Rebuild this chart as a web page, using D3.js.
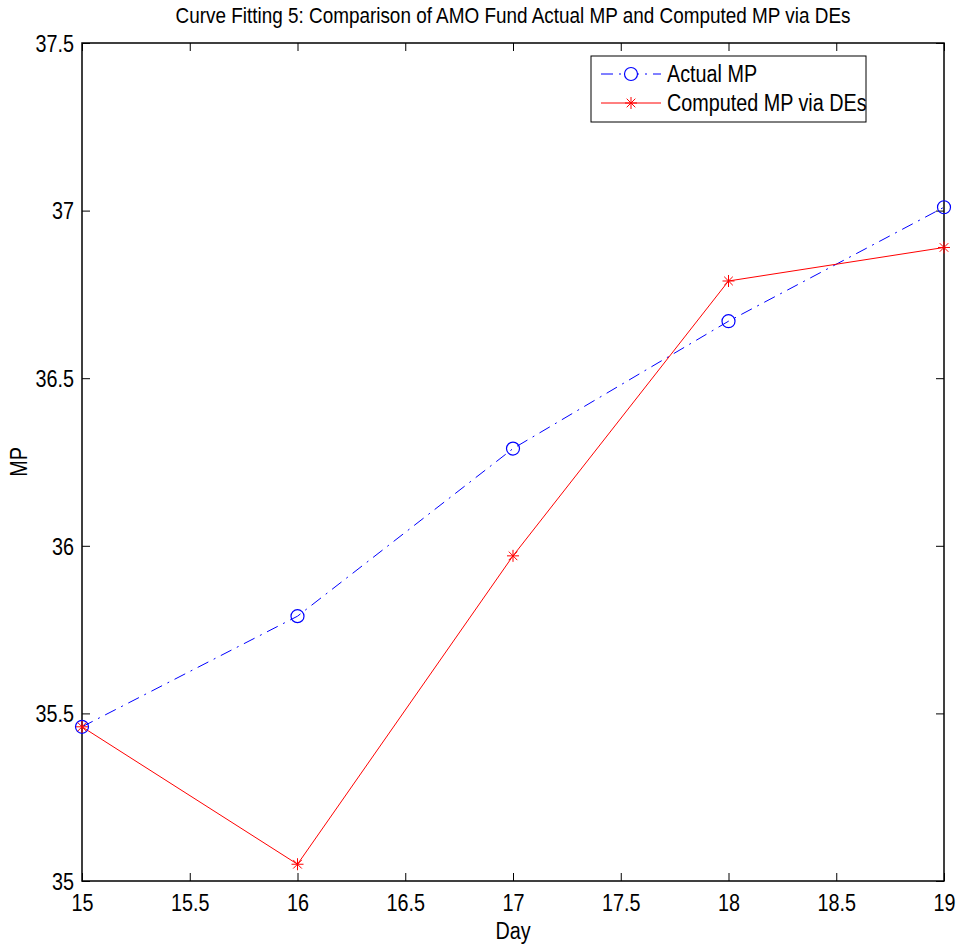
<!DOCTYPE html>
<html>
<head>
<meta charset="utf-8">
<script src="https://cdn.jsdelivr.net/npm/d3@7"></script>
<style>
  body { margin: 0; background: #fff; }
  text { font-family: "Liberation Sans", Arial, sans-serif; }
</style>
</head>
<body>
<div id="chart"></div>
<script>
// data
var days = [15, 16, 17, 18, 19];
var actualMP = [35.46, 35.79, 36.29, 36.67, 37.01];
var computedMP = [35.46, 35.05, 35.97, 36.79, 36.89];
var xTicks = [15, 15.5, 16, 16.5, 17, 17.5, 18, 18.5, 19];
var yTicks = [35, 35.5, 36, 36.5, 37, 37.5];

var W = 958, H = 947;
var margin = { top: 43, right: 14, bottom: 66, left: 82 },
  width = W - margin.left - margin.right,
  height = H - margin.top - margin.bottom;

// the original font is a narrow helvetica, squeeze liberation sans to match
var sx = 0.86;

var svg = d3.select("#chart").append("svg")
  .attr("width", W)
  .attr("height", H);

var g = svg.append("g")
  .attr("transform", "translate(" + margin.left + "," + margin.top + ")");

var x = d3.scaleLinear().domain([15, 19]).range([0, width]);
var y = d3.scaleLinear().domain([35, 37.5]).range([height, 0]);

var tickLen = 8;

// axes: ticks point inward, mirrored on top/right
var fmt = function (d) { return String(d); };
var axBottom = g.append("g").attr("transform", "translate(0," + height + ")")
  .call(d3.axisBottom(x).tickValues(xTicks).tickFormat(fmt).tickSizeInner(-tickLen).tickSizeOuter(0).tickPadding(14));
var axTop = g.append("g")
  .call(d3.axisTop(x).tickValues(xTicks).tickFormat("").tickSizeInner(-tickLen).tickSizeOuter(0));
var axLeft = g.append("g")
  .call(d3.axisLeft(y).tickValues(yTicks).tickFormat(fmt).tickSizeInner(-tickLen).tickSizeOuter(0).tickPadding(8));
var axRight = g.append("g").attr("transform", "translate(" + width + ",0)")
  .call(d3.axisRight(y).tickValues(yTicks).tickFormat("").tickSizeInner(-tickLen).tickSizeOuter(0));

[axBottom, axTop, axLeft, axRight].forEach(function (a) {
  a.select(".domain").remove();
  a.selectAll(".tick line").attr("stroke", "#000").attr("stroke-width", 1);
  a.selectAll(".tick text")
    .attr("font-size", 23).attr("fill", "#000")
    .attr("x", function () { return (+d3.select(this).attr("x") || 0) / sx; })
    .attr("transform", "scale(" + sx + ",1)");
});
axLeft.selectAll(".tick text").attr("dy", "0.36em");

g.append("rect")
  .attr("width", width).attr("height", height)
  .attr("fill", "none").attr("stroke", "#000").attr("stroke-width", 1.5);

// lines
var line = d3.line()
  .x(function (d) { return x(d[0]); })
  .y(function (d) { return y(d[1]); });

var actual = d3.zip(days, actualMP);
var computed = d3.zip(days, computedMP);

g.append("path").datum(actual)
  .attr("d", line).attr("fill", "none")
  .attr("stroke", "#0000ff").attr("stroke-width", 1)
  .attr("stroke-dasharray", "12,6,2,6");

g.append("path").datum(computed)
  .attr("d", line).attr("fill", "none")
  .attr("stroke", "#ff0000").attr("stroke-width", 1);

function asterisk(sel, r) {
  var a = r * 0.72;
  sel.append("path")
    .attr("d", "M0," + (-r) + "V" + r + "M" + (-r) + ",0H" + r +
      "M" + (-a) + "," + (-a) + "L" + a + "," + a + "M" + (-a) + "," + a + "L" + a + "," + (-a))
    .attr("stroke", "#ff0000").attr("stroke-width", 1).attr("fill", "none");
}

g.selectAll(".mk-a").data(actual).join("circle")
  .attr("class", "mk-a")
  .attr("cx", function (d) { return x(d[0]); })
  .attr("cy", function (d) { return y(d[1]); })
  .attr("r", 6.5)
  .attr("fill", "none").attr("stroke", "#0000ff").attr("stroke-width", 1.2);

g.selectAll(".mk-c").data(computed).join("g")
  .attr("class", "mk-c")
  .attr("transform", function (d) { return "translate(" + x(d[0]) + "," + y(d[1]) + ")"; })
  .each(function () { asterisk(d3.select(this), 6); });

// squeezed text helper
function label(parent, tx, ty, txt, size, anchor, rot) {
  return parent.append("text")
    .attr("transform", "translate(" + tx + "," + ty + ")" + (rot ? " rotate(" + rot + ")" : "") + " scale(" + sx + ",1)")
    .attr("text-anchor", anchor || "start")
    .attr("font-size", size)
    .attr("fill", "#000")
    .text(txt);
}

// title and axis labels
label(svg, margin.left + width / 2, 23, "Curve Fitting 5: Comparison of AMO Fund Actual MP and Computed MP via DEs", 22, "middle");
label(svg, margin.left + width / 2, 939, "Day", 23, "middle");
label(svg, 27, margin.top + height / 2, "MP", 23, "middle", -90);

// legend
var lg = svg.append("g").attr("transform", "translate(591,56)");
lg.append("rect").attr("width", 275).attr("height", 66)
  .attr("fill", "#fff").attr("stroke", "#000").attr("stroke-width", 1);

var legendItems = [
  { label: "Actual MP", color: "#0000ff", dash: "12,6,2,6", mark: "circle", y: 18 },
  { label: "Computed MP via DEs", color: "#ff0000", dash: null, mark: "star", y: 47 }
];
legendItems.forEach(function (it) {
  var row = lg.append("g").attr("transform", "translate(0," + it.y + ")");
  row.append("line").attr("x1", 10).attr("x2", 70)
    .attr("stroke", it.color).attr("stroke-width", 1)
    .attr("stroke-dasharray", it.dash);
  if (it.mark === "circle") {
    row.append("circle").attr("cx", 40).attr("r", 6.5)
      .attr("fill", "#fff").attr("stroke", it.color).attr("stroke-width", 1.2);
  } else {
    asterisk(row.append("g").attr("transform", "translate(40,0)"), 6);
  }
  label(row, 76, 8, it.label, 23, "start");
});
</script>
</body>
</html>
